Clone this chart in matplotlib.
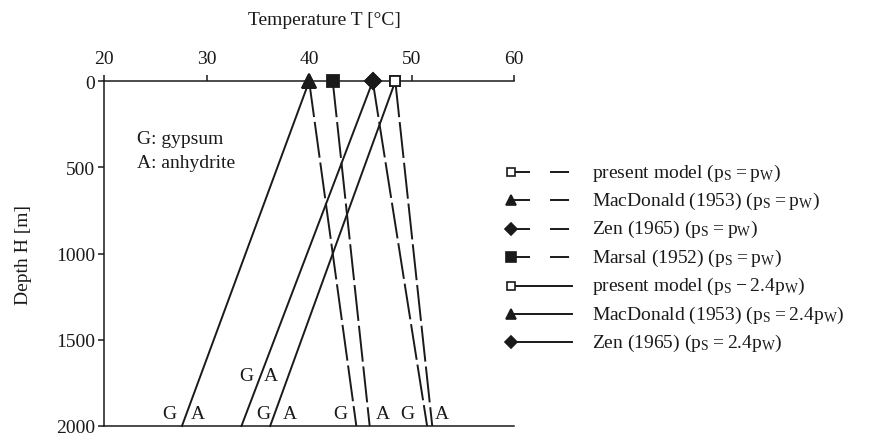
import matplotlib
matplotlib.use('Agg')
import matplotlib.pyplot as plt

plt.rcParams['font.family'] = 'Liberation Serif'
plt.rcParams['font.size'] = 14
plt.rcParams['mathtext.fontset'] = 'custom'
plt.rcParams['mathtext.rm'] = 'Liberation Serif'
plt.rcParams['lines.scale_dashes'] = False

# temperature at the surface and at 2000 m for each model
models = ['present model', 'MacDonald (1953)', 'Zen (1965)', 'Marsal (1952)']
depth = [0, 2000]
t_top = [48.4, 40.0, 46.2, 42.3]
t_bottom_pw = [52.0, 44.6, 51.5, 45.9]      # p_S = p_W
t_bottom_24pw = [36.2, 27.6, 33.4, None]    # p_S = 2.4 p_W

markers = ['s', '^', 'D', 's']
msize = [6.5, 9.5, 8, 9]
mface = ['white', '#1a1a1a', '#1a1a1a', '#1a1a1a']

# G / A labels on either side of the lines
ga_text = ['G', 'A', 'G', 'A', 'G', 'A', 'G', 'A', 'G', 'A']
ga_temp = [26.4, 29.2, 33.9, 36.3, 35.5, 38.1, 43.0, 47.2, 49.6, 52.9]
ga_depth = [1930, 1930, 1705, 1705, 1930, 1930, 1930, 1930, 1930, 1930]

col = '#1a1a1a'
lw = 1.4

fig = plt.figure(figsize=(8.74, 4.35), dpi=100)
ax = fig.add_axes([104 / 874, 1 - 427 / 435, 410.3 / 874, 344.7 / 435])

for i in range(len(models)):
    ax.plot([t_top[i], t_bottom_pw[i]], depth, color=col, lw=lw,
            dashes=(26, 3.5), marker=markers[i], markevery=[0],
            ms=msize[i], mfc=mface[i], mec=col, mew=1.3, clip_on=False, zorder=3)
    if t_bottom_24pw[i] is not None:
        ax.plot([t_top[i], t_bottom_24pw[i]], depth, color=col, lw=lw,
                marker=markers[i], markevery=[0], ms=msize[i], mfc=mface[i],
                mec=col, mew=1.3, clip_on=False, zorder=3)

for s, t, d in zip(ga_text, ga_temp, ga_depth):
    ax.text(t, d, s, ha='center', va='center', color=col)

ax.text(23.2, 400, 'G: gypsum\nA: anhydrite', ha='left', va='center',
        linespacing=1.55, color=col)

ax.set_xlim(20, 60)
ax.set_ylim(2000, 0)
ax.set_xticks([20, 30, 40, 50, 60])
ax.set_yticks([0, 500, 1000, 1500, 2000])
ax.xaxis.tick_top()
ax.xaxis.set_label_position('top')
ax.set_xlabel('Temperature T [°C]', color=col)
ax.xaxis.set_label_coords(0.537, 1.165)
ax.set_ylabel('Depth H [m]', color=col)
ax.yaxis.set_label_coords(-0.175, 0.5)
ax.tick_params(axis='x', direction='out', length=4, width=1.1, pad=6,
               colors=col, top=True, bottom=False)
ax.tick_params(axis='y', direction='out', length=4.5, width=1.1, pad=2,
               colors=col)
for lab in ax.get_yticklabels():
    lab.set_va('center_baseline')
ax.spines['right'].set_visible(False)
for sp in ['left', 'top', 'bottom']:
    ax.spines[sp].set_linewidth(1.1)
    ax.spines[sp].set_color(col)

# legend drawn by hand: marker at the left end of each sample line
lax = fig.add_axes([0, 0, 1, 1])
lax.set_xlim(0, 874)
lax.set_ylim(435, 0)
lax.axis('off')

leg_model = [0, 1, 2, 3, 0, 1, 2]
leg_label = [
    r'present model ($\mathregular{p_S = p_W}$)',
    r'MacDonald (1953) ($\mathregular{p_S = p_W}$)',
    r'Zen (1965) ($\mathregular{p_S = p_W}$)',
    r'Marsal (1952) ($\mathregular{p_S = p_W}$)',
    r'present model ($\mathregular{p_S - 2.4p_W}$)',
    r'MacDonald (1953) ($\mathregular{p_S = 2.4p_W}$)',
    r'Zen (1965) ($\mathregular{p_S = 2.4p_W}$)',
]
for k in range(len(leg_label)):
    y = 173 + 28.4 * k
    m = leg_model[k]
    if k < 4:
        lax.plot([511, 572], [y, y], color=col, lw=lw, dashes=(13.7, 14.4))
    else:
        lax.plot([511, 572], [y, y], color=col, lw=lw)
    lax.plot([511], [y], marker=markers[m], ms=msize[m] * 0.8, mfc=mface[m],
             mec=col, mew=1.2, ls='none')
    lax.text(592, y, leg_label[k], ha='left', va='center', color=col)

fig.savefig('out.png', dpi=100)
